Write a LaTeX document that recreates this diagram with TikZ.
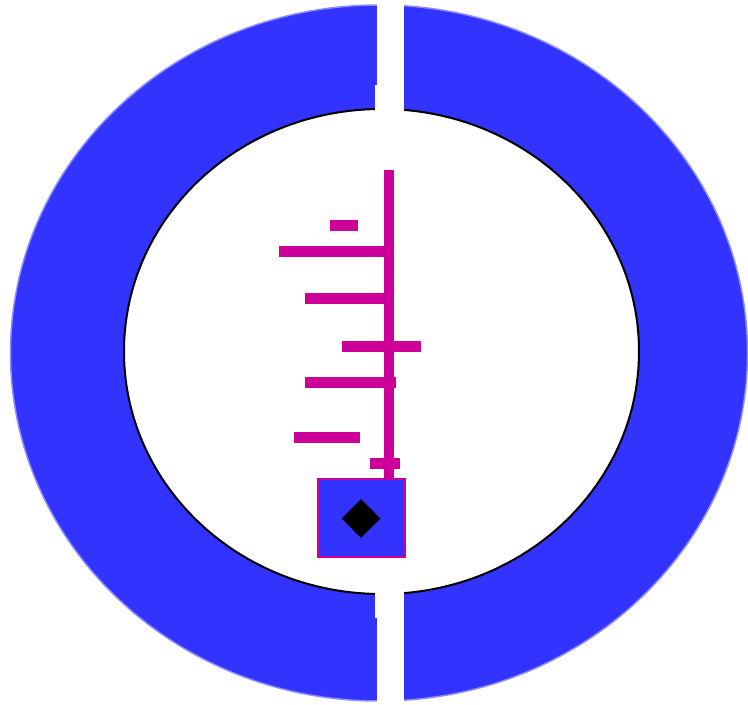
\documentclass[tikz,border=0pt]{standalone}
\usetikzlibrary{shapes.geometric}
\definecolor{ringblue}{HTML}{3333FF}
\definecolor{ringedge}{HTML}{8C8CFF}
\definecolor{mag}{HTML}{CC0099}
\begin{document}
\begin{tikzpicture}[x=1pt,y=-1pt,
  bar/.style={fill=mag},
  gap/.style={fill=white}]
\useasboundingbox (0,0) rectangle (748,705);
\fill[white] (0,0) rectangle (748,705);
% ring
\draw[fill=ringblue, draw=ringedge, line width=1.5pt] (379,353) ellipse [x radius=368.5, y radius=348];
\draw[fill=white, draw=black, line width=2pt] (381.5,351.5) ellipse [x radius=257.5, y radius=242.5];
% gaps
\fill[gap] (377,-2) rectangle (403.5,111);
\fill[gap] (375,85) rectangle (403.5,111);
\fill[gap] (375,591) rectangle (403.5,618);
\fill[gap] (377,618) rectangle (403.5,707);
% magenta stem and bars
\fill[bar] (383.5,170) rectangle (393.5,479);
\fill[bar] (330,220) rectangle (358,231);
\fill[bar] (279,246) rectangle (384,257);
\fill[bar] (305,293) rectangle (384,304);
\fill[bar] (342,341) rectangle (421,352);
\fill[bar] (305,377) rectangle (396,388);
\fill[bar] (294,432) rectangle (360,443);
\fill[bar] (370,458) rectangle (400,469);
% box with diamond
\node[draw=mag, fill=ringblue, line width=2pt, minimum width=86.7pt, minimum height=77.4pt, inner sep=0pt] (box) at (361.6,518) {};
\node[diamond, fill=black, minimum width=39pt, minimum height=39pt, inner sep=0pt] (dia) at (361,518.5) {};
\end{tikzpicture}
\end{document}
